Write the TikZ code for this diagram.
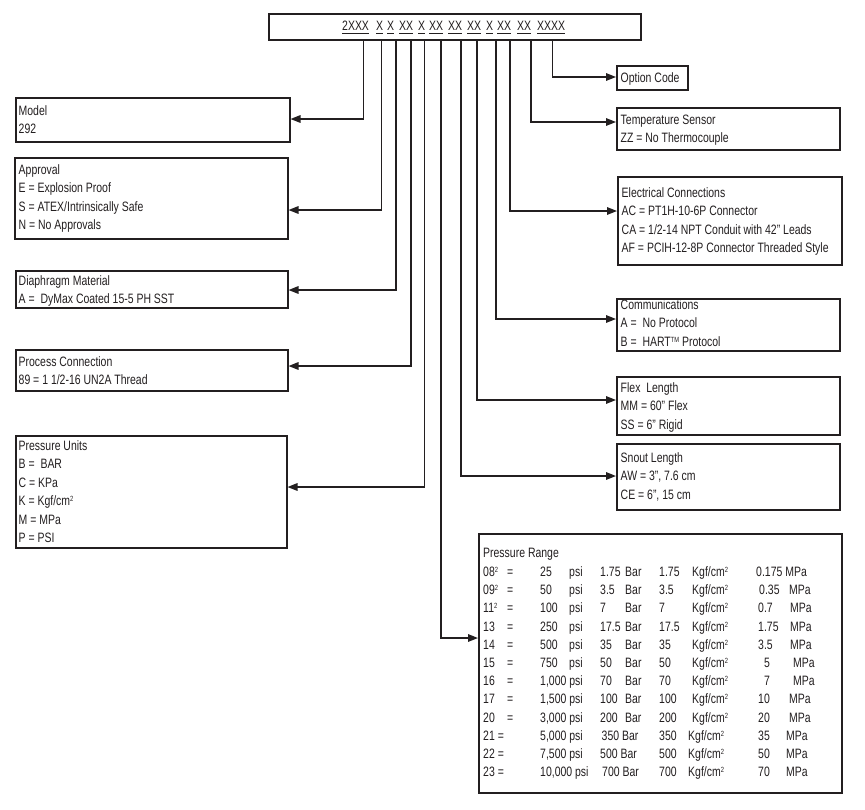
\documentclass[tikz,border=0pt]{standalone}
\usepackage{fontspec}
\setmainfont{Liberation Sans}[FakeStretch=0.77]
\usetikzlibrary{arrows.meta,calc}
\definecolor{ink}{RGB}{35,31,32}
\newcommand\cw[2]{\makebox[#1pt][l]{#2}}
\newcommand\spx[1]{\raisebox{4pt}{\fontsize{7.5}{8}\selectfont #1}}
\newcommand\boxlines[4]{%
  \foreach \bl [count=\i] in {#4} {\node[txt] (#1-\i) at (#2,{#3+(\i-1)*18.4}) {\bl};}}
\newcommand\prow[8]{%
  \node[txt] (r#1a) at (483,#2) {#3};
  \node[txt] (r#1b) at (540,#2) {#4};
  \node[txt] (r#1c) at (600,#2) {#5};
  \node[txt] (r#1d) at (659,#2) {#6};
  \node[txt] (r#1e) at (#7,#2) {#8};}
\newcommand\grp[3]{%
  \node[txt] (#1) at (#2,30) {#3};
  \draw[ulw] ([yshift=-3pt]#1.base west) -- ([yshift=-3pt]#1.base east);}
\begin{document}
\begin{tikzpicture}[x=1pt,y=-1pt,
  font=\fontsize{13.6}{16}\selectfont,
  box/.style={draw=ink, line width=1.5pt, inner sep=0pt, anchor=north west, rectangle},
  txt/.style={anchor=base west, inner sep=0pt, text=ink},
  conn/.style={draw=ink, line width=1.5pt, -{Triangle[length=10pt,width=7.5pt]}},
  ulw/.style={draw=ink, line width=1pt}]
\useasboundingbox (0,0) rectangle (865,809);
\fill[white] (0,0) rectangle (865,809);

% code box
\node[box, minimum width=372pt, minimum height=26pt] (code) at (268,13) {};
\grp{g1}{342}{2XXX}
\grp{g2}{376}{X}
\grp{g3}{387}{X}
\grp{g4}{399}{XX}
\grp{g5}{418}{X}
\grp{g6}{429}{XX}
\grp{g7}{448}{XX}
\grp{g8}{467}{XX}
\grp{g9}{486}{X}
\grp{g10}{497}{XX}
\grp{g11}{517}{XX}
\grp{g12}{537}{XXXX}

% left boxes
\node[box, minimum width=274pt, minimum height=44pt] (model) at (15,97) {};
\node[box, minimum width=273pt, minimum height=81pt] (approval) at (14,157) {};
\node[box, minimum width=272pt, minimum height=37pt] (diaph) at (15,270) {};
\node[box, minimum width=272pt, minimum height=41pt] (process) at (15,349) {};
\node[box, minimum width=271pt, minimum height=112pt] (units) at (15,435) {};
% right boxes
\node[box, minimum width=71pt, minimum height=24pt] (option) at (616,65) {};
\node[box, minimum width=223pt, minimum height=42pt] (temp) at (616,107) {};
\node[box, minimum width=224pt, minimum height=88pt] (elec) at (617,176) {};
\node[box, minimum width=223pt, minimum height=52pt] (comm) at (616,298) {};
\node[box, minimum width=223pt, minimum height=58pt] (flex) at (616,376) {};
\node[box, minimum width=223pt, minimum height=66pt] (snout) at (616,443) {};
\node[box, minimum width=363pt, minimum height=259pt] (range) at (478,533) {};

% connector start points
\coordinate (c1) at (363.3,39);
\coordinate (c2) at (381.7,39);
\coordinate (c3) at (396,39);
\coordinate (c4) at (411,39);
\coordinate (c5) at (424.5,39);
\coordinate (c6) at (441,39);
\coordinate (c7) at (461,39);
\coordinate (c8) at (477,39);
\coordinate (c9) at (496,39);
\coordinate (c10) at (510,39);
\coordinate (c11) at (531,39);
\coordinate (c12) at (552.5,39);

\draw[conn] (c1) |- ($(model.north east)+(0,22)$);
\draw[conn] (c2) |- ($(approval.north east)+(0,53)$);
\draw[conn] (c3) |- ($(diaph.north east)+(0,20)$);
\draw[conn] (c4) |- ($(process.north east)+(0,17)$);
\draw[conn] (c5) |- ($(units.north east)+(0,52)$);
\draw[conn] (c6) |- ($(range.north west)+(0,105)$);
\draw[conn] (c7) |- ($(snout.north west)+(0,33)$);
\draw[conn] (c8) |- ($(flex.north west)+(0,24)$);
\draw[conn] (c9) |- ($(comm.north west)+(0,21)$);
\draw[conn] (c10) |- ($(elec.north west)+(0,35)$);
\draw[conn] (c11) |- ($(temp.north west)+(0,15)$);
\draw[conn] (c12) |- ($(option.north west)+(0,12)$);

% texts
\boxlines{tm}{18.5}{115.5}{Model,292}
\boxlines{ta}{18.5}{174.5}{Approval,E = Explosion Proof,S = ATEX/Intrinsically Safe,N = No Approvals}
\boxlines{td}{18.5}{285.5}{Diaphragm Material,A = \ DyMax Coated 15-5 PH SST}
\boxlines{tp}{18.5}{366.5}{Process Connection,89 = 1 1/2-16 UN2A Thread}
\boxlines{tu}{18.5}{450.5}{Pressure Units,B = \ BAR,C = KPa,K = Kgf/cm\spx{2},M = MPa,P = PSI}
\boxlines{to}{620.5}{82.5}{Option Code}
\boxlines{tt}{620.5}{124.5}{Temperature Sensor,ZZ = No Thermocouple}
\boxlines{te}{621.5}{197.5}{Electrical Connections,AC = PT1H-10-6P Connector,{CA = 1/2-14 NPT Conduit with 42” Leads},AF = PCIH-12-8P Connector Threaded Style}
\boxlines{tc}{620.5}{309.5}{Communications,A = \ No Protocol,B = \ HART\spx{TM} Protocol}
\boxlines{tf}{620.5}{392.5}{Flex\ \ Length,MM = 60” Flex,SS = 6” Rigid}
\boxlines{ts}{620.5}{462.5}{Snout Length,{AW = 3”, 7.6 cm},{CE = 6”, 15 cm}}

% pressure range table
\node[txt] (rh) at (483,557.5) {Pressure Range};
\prow{1}{576.5}{\cw{24}{08\spx{2}}=}{\cw{29}{25}psi}{\cw{25}{1.75}Bar}{\cw{33}{1.75}Kgf/cm\spx{2}}{756}{0.175 MPa}
\prow{2}{594.7}{\cw{24}{09\spx{2}}=}{\cw{29}{50}psi}{\cw{25}{3.5}Bar}{\cw{33}{3.5}Kgf/cm\spx{2}}{759}{\cw{30}{0.35}MPa}
\prow{3}{612.9}{\cw{24}{11\spx{2}}=}{\cw{29}{100}psi}{\cw{25}{7}Bar}{\cw{33}{7}Kgf/cm\spx{2}}{758}{\cw{32}{0.7}MPa}
\prow{4}{631.1}{\cw{24}{13}=}{\cw{29}{250}psi}{\cw{25}{17.5}Bar}{\cw{33}{17.5}Kgf/cm\spx{2}}{758}{\cw{32}{1.75}MPa}
\prow{5}{649.3}{\cw{24}{14}=}{\cw{29}{500}psi}{\cw{25}{35}Bar}{\cw{33}{35}Kgf/cm\spx{2}}{758}{\cw{32}{3.5}MPa}
\prow{6}{667.5}{\cw{24}{15}=}{\cw{29}{750}psi}{\cw{25}{50}Bar}{\cw{33}{50}Kgf/cm\spx{2}}{764}{\cw{29}{5}MPa}
\prow{7}{685.7}{\cw{24}{16}=}{1,000 psi}{\cw{25}{70}Bar}{\cw{33}{70}Kgf/cm\spx{2}}{764}{\cw{29}{7}MPa}
\prow{8}{703.9}{\cw{24}{17}=}{1,500 psi}{\cw{25}{100}Bar}{\cw{33}{100}Kgf/cm\spx{2}}{758}{\cw{31}{10}MPa}
\prow{9}{722.1}{\cw{24}{20}=}{3,000 psi}{\cw{25}{200}Bar}{\cw{33}{200}Kgf/cm\spx{2}}{758}{\cw{31}{20}MPa}
\prow{10}{740.3}{21 =}{5,000 psi}{\hspace{1.5pt}350 Bar}{\cw{29}{350}Kgf/cm\spx{2}}{758}{\cw{28}{35}MPa}
\prow{11}{758.5}{22 =}{7,500 psi}{500 Bar}{\cw{29}{500}Kgf/cm\spx{2}}{758}{\cw{28}{50}MPa}
\prow{12}{776.7}{23 =}{10,000 psi}{\hspace{2pt}700 Bar}{\cw{29}{700}Kgf/cm\spx{2}}{758}{\cw{28}{70}MPa}
\end{tikzpicture}
\end{document}
